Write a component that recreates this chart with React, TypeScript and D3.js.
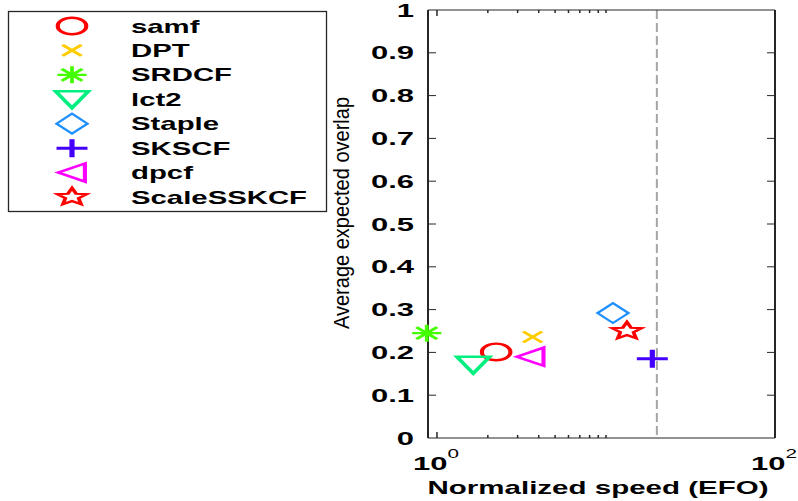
import * as d3 from 'd3';

const W = 798;
const H = 501;
// the source figure is stretched sideways, so text and markers are too
const SX = 1.72;
const FONT = '"Liberation Sans", Arial, Helvetica, sans-serif';

const trackers = ['samf', 'DPT', 'SRDCF', 'lct2', 'Staple', 'SKSCF', 'dpcf', 'ScaleSSKCF'];
const speed = [2.24, 3.68, 0.87, 1.64, 11.0, 18.8, 3.58, 13.3];
const overlap = [0.201, 0.236, 0.245, 0.171, 0.292, 0.185, 0.19, 0.25];
const colors = ['#ff0000', '#ffcc00', '#44ff00', '#00f080', '#1e8fff', '#4400ff', '#ff00ff', '#ff0000'];
const markers = ['o', 'x', '*', 'v', 'd', '+', '<', 'p'];

const yTicks = [0, 0.1, 0.2, 0.3, 0.4, 0.5, 0.6, 0.7, 0.8, 0.9, 1];
const yTickLabels = ['0', '0.1', '0.2', '0.3', '0.4', '0.5', '0.6', '0.7', '0.8', '0.9', '1'];
const xMajorTicks = [1, 100];
const xMajorExp = ['0', '2'];
const xMinorTicks = [2, 3, 4, 5, 6, 7, 8, 9, 10];
const realtimeSpeed = 20;

const frame = { left: 428, right: 775, top: 10, bottom: 438 };

function markerPath(m: string) {
  const p = d3.path();
  if (m === 'o') {
    p.moveTo(8.3, 0);
    p.arc(0, 0, 8.3, 0, Math.PI * 2);
  } else if (m === 'x') {
    p.moveTo(-5.5, -5.5); p.lineTo(5.5, 5.5);
    p.moveTo(-5.5, 5.5); p.lineTo(5.5, -5.5);
  } else if (m === '*') {
    p.moveTo(-8.5, 0); p.lineTo(8.5, 0);
    p.moveTo(0, -8.5); p.lineTo(0, 8.5);
    p.moveTo(-6, -6); p.lineTo(6, 6);
    p.moveTo(-6, 6); p.lineTo(6, -6);
  } else if (m === 'v') {
    p.moveTo(-9.5, -8); p.lineTo(9.5, -8); p.lineTo(0, 8.5); p.closePath();
  } else if (m === 'd') {
    p.moveTo(0, -10); p.lineTo(9, 0); p.lineTo(0, 10); p.lineTo(-9, 0); p.closePath();
  } else if (m === '+') {
    p.moveTo(-9, 0); p.lineTo(9, 0);
    p.moveTo(0, -9); p.lineTo(0, 9);
  } else if (m === '<') {
    p.moveTo(-8, 0); p.lineTo(7.5, -9); p.lineTo(7.5, 9); p.closePath();
  } else if (m === 'p') {
    const R = 9, r = R * 0.45;
    for (let i = 0; i < 10; i++) {
      const a = -Math.PI / 2 + (i * Math.PI) / 5;
      const rad = i % 2 === 0 ? R : r;
      if (i === 0) p.moveTo(rad * Math.cos(a), rad * Math.sin(a));
      else p.lineTo(rad * Math.cos(a), rad * Math.sin(a));
    }
    p.closePath();
  }
  return p.toString();
}

const strokeFor: Record<string, number> = { o: 2.4, x: 2.4, '*': 2.2, v: 2.6, d: 1.8, '+': 3, '<': 2.4, p: 2.2 };

function Marker({ x, y, m, color }: { x: number; y: number; m: string; color: string }) {
  return (
    <path
      d={markerPath(m)}
      transform={`translate(${x},${y}) scale(${SX},1)`}
      fill="none"
      stroke={color}
      strokeWidth={strokeFor[m]}
      strokeLinejoin="miter"
    />
  );
}

function SText({ x, y, sx = SX, anchor = 'start', size = 18, weight = 'normal', children }: any) {
  return (
    <g transform={`translate(${x},${y}) scale(${sx},1)`}>
      <text textAnchor={anchor} fontSize={size} fontWeight={weight} fontFamily={FONT} fill="#000">
        {children}
      </text>
    </g>
  );
}

export default function App() {
  const x = d3.scaleLog().domain([0.885, 100]).range([frame.left, frame.right]);
  const y = d3.scaleLinear().domain([0, 1]).range([frame.bottom, frame.top]);
  const legendY = d3.scaleLinear().domain([0, trackers.length - 1]).range([26, 197]);
  const axisColor = '#262626';

  return (
    <svg width={W} height={H} style={{ position: 'absolute', left: 0, top: 0, background: '#fff' }}>
      <rect x={0} y={0} width={W} height={H} fill="#fff" />

      {/* realtime threshold */}
      <line
        x1={x(realtimeSpeed)} x2={x(realtimeSpeed)} y1={frame.top} y2={frame.bottom}
        stroke="#a6a6a6" strokeWidth={2} strokeDasharray="9 4"
      />

      {/* y ticks, both sides */}
      {yTicks.slice(1, -1).map((t) => (
        <g key={t}>
          <line x1={frame.left} x2={frame.left + 8} y1={y(t)} y2={y(t)} stroke={axisColor} strokeWidth={1} />
          <line x1={frame.right - 8} x2={frame.right} y1={y(t)} y2={y(t)} stroke={axisColor} strokeWidth={1} />
        </g>
      ))}

      {/* x ticks, top and bottom */}
      {xMinorTicks.map((t) => (
        <g key={t}>
          <line x1={x(t)} x2={x(t)} y1={frame.bottom} y2={frame.bottom - 3} stroke={axisColor} strokeWidth={1.5} />
          <line x1={x(t)} x2={x(t)} y1={frame.top} y2={frame.top + 3} stroke={axisColor} strokeWidth={1.5} />
        </g>
      ))}
      <line x1={x(1)} x2={x(1)} y1={frame.bottom} y2={frame.bottom - 6} stroke={axisColor} strokeWidth={1.5} />
      <line x1={x(1)} x2={x(1)} y1={frame.top} y2={frame.top + 6} stroke={axisColor} strokeWidth={1.5} />

      {/* frame */}
      <line x1={frame.left} x2={frame.right} y1={frame.top} y2={frame.top} stroke={axisColor} strokeWidth={1.2} />
      <line x1={frame.left} x2={frame.right} y1={frame.bottom} y2={frame.bottom} stroke={axisColor} strokeWidth={1.2} />
      <line x1={frame.left} x2={frame.left} y1={frame.top} y2={frame.bottom} stroke={axisColor} strokeWidth={2} />
      <line x1={frame.right} x2={frame.right} y1={frame.top} y2={frame.bottom} stroke={axisColor} strokeWidth={2} />

      {/* y tick labels */}
      {yTicks.map((t, i) => (
        <SText key={t} x={414} y={y(t) + 6.5} anchor="end" weight="bold">
          {yTickLabels[i]}
        </SText>
      ))}

      {/* x tick labels */}
      {xMajorTicks.map((t, i) => (
        <SText key={t} x={x(t) - 1} y={470} anchor="middle" weight="bold">
          10
          <tspan dy={-12} fontSize={12} fontWeight="normal">{xMajorExp[i]}</tspan>
        </SText>
      ))}

      {/* axis labels */}
      <SText x={598} y={494} sx={1.64} anchor="middle" weight="bold">
        Normalized speed (EFO)
      </SText>
      <g transform="translate(349,213) scale(1.3,1)">
        <text
          transform="rotate(-90)"
          textAnchor="middle"
          fontSize={17}
          fontFamily={FONT}
          fill="#000"
          textLength={232}
          lengthAdjust="spacingAndGlyphs"
        >
          Average expected overlap
        </text>
      </g>

      {/* points */}
      {trackers.map((name, i) => (
        <Marker key={name} x={x(speed[i])} y={y(overlap[i])} m={markers[i]} color={colors[i]} />
      ))}

      {/* legend */}
      <rect x={8.5} y={11.5} width={318} height={200} fill="#fff" stroke={axisColor} strokeWidth={1.3} />
      {trackers.map((name, i) => (
        <g key={name}>
          <Marker x={72} y={legendY(i)} m={markers[i]} color={colors[i]} />
          <SText x={131} y={legendY(i) + 6.5} sx={1.63} weight="bold">{name}</SText>
        </g>
      ))}
    </svg>
  );
}
